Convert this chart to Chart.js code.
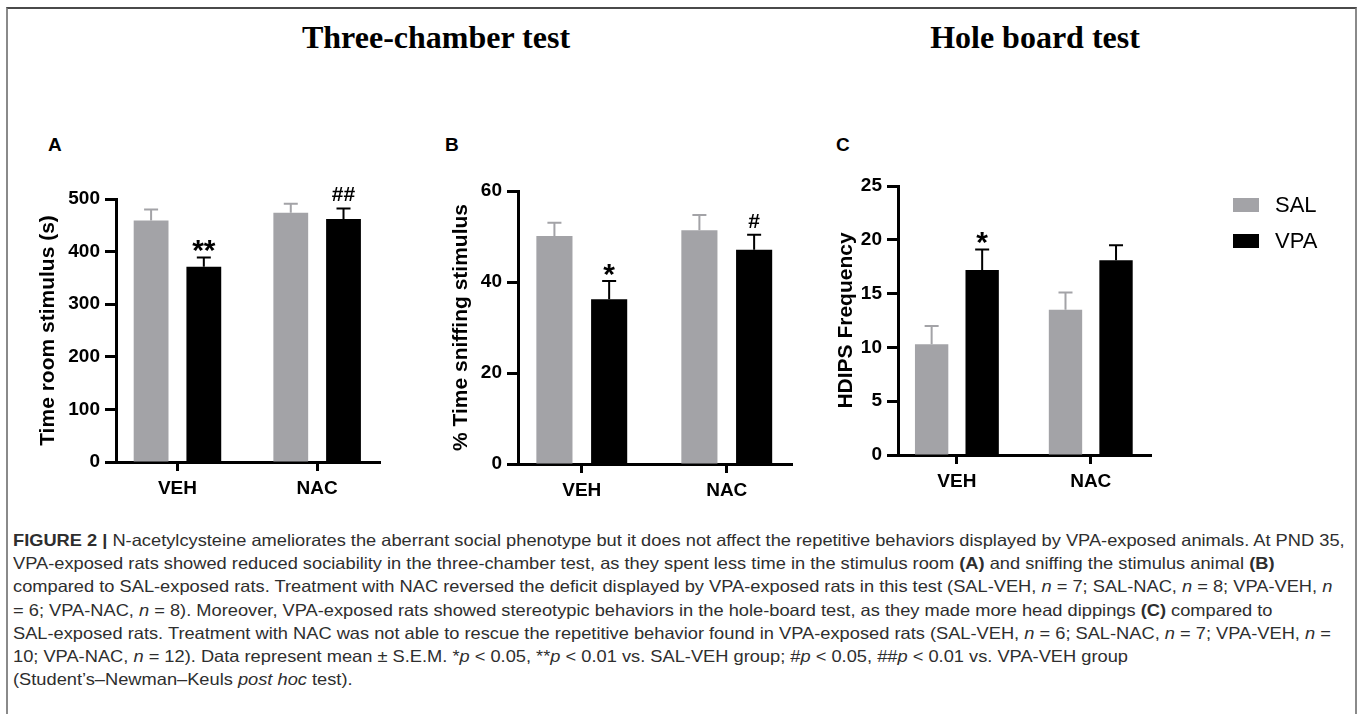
<!DOCTYPE html>
<html>
<head>
<meta charset="utf-8">
<script src="https://cdn.jsdelivr.net/npm/chart.js@4.4.0/dist/chart.umd.min.js"></script>
<style>
  html, body { margin: 0; padding: 0; background: #fff; }
  body { width: 1358px; height: 714px; position: relative; overflow: hidden; font-family: "Liberation Sans", Arial, sans-serif; }
  .frame { position: absolute; left: 6px; top: 7px; width: 1347px; height: 720px;
           border-top: 2px solid #4a4a4a; border-left: 2px solid #8a8a8a; border-right: 2px solid #8a8a8a; }
  .title { position: absolute; top: 21px; font: bold 32px/32px "Liberation Serif", "Times New Roman", serif; color: #000;
           transform: translateX(-50%); white-space: nowrap; }
  .letter { position: absolute; top: 135px; font: bold 19px/19px "Liberation Sans", Arial, sans-serif; color: #000; }
  canvas { position: absolute; }
  #caption { position: absolute; left: 13px; top: 529px; font-size: 16.5px; line-height: 23.2px; color: #2e2e2e;
             font-family: "Liberation Sans Narrow", "Liberation Sans", Arial, sans-serif; transform-origin: 0 0; }
  #caption div { white-space: nowrap; }
</style>
</head>
<body>
<div class="frame"></div>
<div class="title" style="left:436px">Three-chamber test</div>
<div class="title" style="left:1035px">Hole board test</div>
<div class="letter" style="left:48px">A</div>
<div class="letter" style="left:445px">B</div>
<div class="letter" style="left:836px">C</div>

<canvas id="chartA" width="400" height="400" style="left:0px;top:120px"></canvas>
<canvas id="chartB" width="410" height="400" style="left:400px;top:120px"></canvas>
<canvas id="chartC" width="560" height="400" style="left:790px;top:120px"></canvas>

<div id="caption">
  <div><b>FIGURE 2 |</b> N-acetylcysteine ameliorates the aberrant social phenotype but it does not affect the repetitive behaviors displayed by VPA-exposed animals. At PND 35,</div>
  <div>VPA-exposed rats showed reduced sociability in the three-chamber test, as they spent less time in the stimulus room <b>(A)</b> and sniffing the stimulus animal <b>(B)</b></div>
  <div>compared to SAL-exposed rats. Treatment with NAC reversed the deficit displayed by VPA-exposed rats in this test (SAL-VEH, <i>n</i> = 7; SAL-NAC, <i>n</i> = 8; VPA-VEH, <i>n</i></div>
  <div>= 6; VPA-NAC, <i>n</i> = 8). Moreover, VPA-exposed rats showed stereotypic behaviors in the hole-board test, as they made more head dippings <b>(C)</b> compared to</div>
  <div>SAL-exposed rats. Treatment with NAC was not able to rescue the repetitive behavior found in VPA-exposed rats (SAL-VEH, <i>n</i> = 6; SAL-NAC, <i>n</i> = 7; VPA-VEH, <i>n</i> =</div>
  <div>10; VPA-NAC, <i>n</i> = 12). Data represent mean ± S.E.M. *<i>p</i> &lt; 0.05, **<i>p</i> &lt; 0.01 vs. SAL-VEH group; #<i>p</i> &lt; 0.05, ##<i>p</i> &lt; 0.01 vs. VPA-VEH group</div>
  <div>(Student’s–Newman–Keuls <i>post hoc</i> test).</div>
</div>

<script>
const categories = ['VEH', 'NAC'];
const groups = ['SAL', 'VPA'];

// A: three-chamber, time in stimulus room (s)
const roomSal = [459, 474];
const roomSalSem = [21, 17];
const roomVpa = [371, 462];
const roomVpaSem = [18, 20];
const roomVpaSig = ['**', '##'];

// B: % time sniffing the stimulus animal
const sniffSal = [50.1, 51.4];
const sniffSalSem = [2.9, 3.3];
const sniffVpa = [36.2, 47.1];
const sniffVpaSem = [4.0, 3.3];
const sniffVpaSig = ['*', '#'];

// C: hole board, head dips
const hdipsSal = [10.3, 13.5];
const hdipsSalSem = [1.7, 1.6];
const hdipsVpa = [17.2, 18.1];
const hdipsVpaSem = [1.9, 1.4];
const hdipsVpaSig = ['*', ''];

const SAL_COLOR = '#a3a3a7';
const VPA_COLOR = '#000000';
const FONT = '"Liberation Sans", Arial, sans-serif';

Chart.defaults.font.family = FONT;
Chart.defaults.color = '#000';

// upper SEM whisker + significance mark, placed through the y scale
const errorBars = {
  id: 'errorBars',
  afterDatasetsDraw(chart) {
    const ctx = chart.ctx;
    const y = chart.scales.y;
    chart.data.datasets.forEach((ds, i) => {
      const meta = chart.getDatasetMeta(i);
      meta.data.forEach((bar, j) => {
        const top = y.getPixelForValue(ds.data[j].y + ds.sem[j]);
        ctx.save();
        ctx.strokeStyle = ds.backgroundColor;
        ctx.lineWidth = 2;
        ctx.beginPath();
        ctx.moveTo(bar.x, bar.y);
        ctx.lineTo(bar.x, top);
        ctx.moveTo(bar.x - 7, top);
        ctx.lineTo(bar.x + 7, top);
        ctx.stroke();
        const sig = ds.sig ? ds.sig[j] : '';
        if (sig) {
          const star = sig[0] === '*';
          ctx.fillStyle = '#000';
          ctx.font = 'bold ' + (star ? 30 : 21) + 'px ' + FONT;
          ctx.textAlign = 'center';
          ctx.textBaseline = 'alphabetic';
          ctx.fillText(sig, bar.x, top + (star ? 3 : -7));
        }
        ctx.restore();
      });
    });
  }
};

// legend to the right of panel C
const sideLegend = {
  id: 'sideLegend',
  afterDraw(chart, args, opts) {
    const ctx = chart.ctx;
    chart.data.datasets.forEach((ds, i) => {
      const by = opts.y + i * opts.gap;
      ctx.save();
      ctx.fillStyle = ds.backgroundColor;
      ctx.fillRect(opts.x, by, 26, 14);
      ctx.fillStyle = '#000';
      ctx.font = '22px ' + FONT;
      ctx.textBaseline = 'middle';
      ctx.fillText(ds.label, opts.x + 42, by + 8);
      ctx.restore();
    });
  }
};

function makePanel(id, cfg) {
  const canvas = document.getElementById(id);
  const cl = parseFloat(canvas.style.left), ct = parseFloat(canvas.style.top);
  const titleHalf = 21 * 1.2 / 2;
  const padLeft = cfg.titleX - titleHalf - cl;
  const yWidth = cfg.area.left - cl - padLeft;
  const xHeight = 40;
  const toPts = vals => vals.map((v, i) => ({ x: i, y: v }));

  return new Chart(canvas, {
    type: 'bar',
    data: {
      datasets: [
        { label: groups[0], data: toPts(cfg.sal), sem: cfg.salSem, backgroundColor: SAL_COLOR },
        { label: groups[1], data: toPts(cfg.vpa), sem: cfg.vpaSem, sig: cfg.vpaSig, backgroundColor: VPA_COLOR }
      ]
    },
    options: {
      responsive: false,
      animation: false,
      devicePixelRatio: 1,
      categoryPercentage: 0.755,
      barPercentage: 0.66,
      layout: {
        padding: {
          left: padLeft,
          top: cfg.area.top - ct,
          right: cl + canvas.width - cfg.area.right,
          bottom: ct + canvas.height - cfg.area.bottom - xHeight
        }
      },
      plugins: {
        legend: { display: false },
        tooltip: { enabled: false },
        sideLegend: cfg.legend || {}
      },
      scales: {
        x: {
          type: 'linear',
          offset: false,
          min: -0.44,
          max: 1.45,
          afterBuildTicks: s => { s.ticks = categories.map((c, i) => ({ value: i })); },
          afterFit: s => { s.height = xHeight; },
          ticks: {
            callback: v => categories[v],
            font: { size: 19, weight: 'bold' },
            color: '#000',
            padding: 6,
            maxRotation: 0,
            autoSkip: false
          },
          grid: { offset: false, drawOnChartArea: false, drawTicks: true, tickLength: 9, tickWidth: 3, color: '#000' },
          border: { display: true, width: 3, color: '#000' }
        },
        y: {
          min: 0,
          max: cfg.max,
          afterFit: s => { s.width = yWidth; },
          ticks: {
            stepSize: cfg.step,
            font: { size: 19, weight: 'bold' },
            color: '#000',
            padding: 5
          },
          grid: { drawOnChartArea: false, drawTicks: true, tickLength: 11, tickWidth: 3, color: '#000' },
          border: { display: true, width: 3, color: '#000' },
          title: {
            display: true,
            text: cfg.yTitle,
            color: '#000',
            padding: 0,
            font: { size: 21, weight: 'bold', lineHeight: 1.2 }
          }
        }
      }
    },
    plugins: cfg.legend ? [errorBars, sideLegend] : [errorBars]
  });
}

makePanel('chartA', {
  area: { left: 116, right: 380, top: 199, bottom: 462 }, titleX: 48,
  max: 500, step: 100, yTitle: 'Time room stimulus (s)',
  sal: roomSal, salSem: roomSalSem, vpa: roomVpa, vpaSem: roomVpaSem, vpaSig: roomVpaSig
});

makePanel('chartB', {
  area: { left: 518, right: 792, top: 191, bottom: 464 }, titleX: 461,
  max: 60, step: 20, yTitle: '% Time sniffing stimulus',
  sal: sniffSal, salSem: sniffSalSem, vpa: sniffVpa, vpaSem: sniffVpaSem, vpaSig: sniffVpaSig
});

makePanel('chartC', {
  area: { left: 898, right: 1151, top: 186, bottom: 455 }, titleX: 846,
  max: 25, step: 5, yTitle: 'HDIPS Frequency',
  sal: hdipsSal, salSem: hdipsSalSem, vpa: hdipsVpa, vpaSem: hdipsVpaSem, vpaSig: hdipsVpaSig,
  legend: { x: 1233 - 790, y: 198 - 120, gap: 36 }
});

// squeeze the caption so its first line spans the same width as in the figure
const cap = document.getElementById('caption');
const w = cap.firstElementChild.scrollWidth;
cap.style.transform = 'scaleX(' + (1332 / w) + ')';
</script>
</body>
</html>
